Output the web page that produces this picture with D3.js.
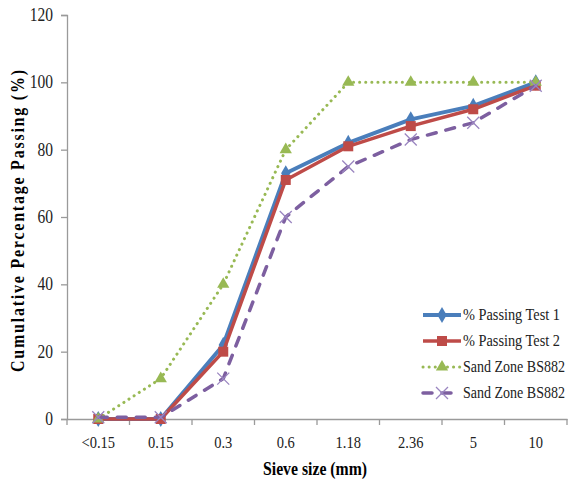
<!DOCTYPE html>
<html><head><meta charset="utf-8">
<script src="https://cdn.jsdelivr.net/npm/d3@7"></script>
<style>body{margin:0;background:#fff}svg{display:block}</style>
</head><body><svg id="c" width="568" height="480"></svg>
<script>
const categories = ["<0.15","0.15","0.3","0.6","1.18","2.36","5","10"];
const test1 = [0, 0, 22, 73, 82, 89, 93, 100];
const test2 = [0, 0, 20, 71, 81, 87, 92, 99];
const zoneUpper = [0, 12, 40, 80, 100, 100, 100, 100];
const zoneLower = [0.5, 0.5, 12, 60, 75, 83, 88, 99];
const yTicks = [0, 20, 40, 60, 80, 100, 120];
const seriesNames = ["% Passing Test 1","% Passing Test 2","Sand Zone BS882","Sand Zone BS882"];

const FONT = '"Liberation Serif"';
const svg = d3.select("#c");
const mLeft = 67, mRight = 567, mTop = 15, mBottom = 419;
const x = d3.scaleBand().domain(categories).range([mLeft, mRight]);
const y = d3.scaleLinear().domain([0, 120]).range([mBottom, mTop]);
const axisColor = "#9a9a9a";

// y axis
const ya = svg.append("g").attr("transform", `translate(${mLeft},0)`)
  .call(d3.axisLeft(y).tickValues(yTicks).tickSize(6).tickPadding(8));
ya.attr("font-family", null);
ya.select(".domain").attr("stroke", axisColor).attr("stroke-width", 1.3);
ya.selectAll(".tick line").attr("stroke", axisColor).attr("stroke-width", 1.3);
ya.selectAll(".tick text").style("font-family", FONT).style("font-size", "15.5px").style("fill", "#222")
  .attr("transform", "scale(1,1.2)").attr("dy", "0.3em");

// x axis
const xa = svg.append("g").attr("transform", `translate(0,${mBottom})`)
  .call(d3.axisBottom(x).tickSize(0));
xa.attr("font-family", null);
xa.select(".domain").attr("stroke", axisColor).attr("stroke-width", 1.3);
xa.selectAll(".tick text").style("font-family", FONT).style("font-size", "14.5px").style("fill", "#222")
  .attr("y", 29 / 1.22).attr("dy", 0).attr("transform", "scale(1,1.22)");
// boundary tick marks between categories
const bounds = categories.map(c => x(c)).concat([x(categories[categories.length-1]) + x.bandwidth()]);
xa.selectAll(".bt").data(bounds).join("line").attr("class","bt")
  .attr("x1", d => d).attr("x2", d => d).attr("y1", 0).attr("y2", 6)
  .attr("stroke", axisColor).attr("stroke-width", 1.3);

// axis titles
svg.append("text").attr("transform", "translate(315,475) scale(1,1.2)").attr("text-anchor", "middle")
  .style("font-family", FONT).style("font-size", "16px").style("font-weight", "bold")
  .attr("textLength", 104).attr("lengthAdjust", "spacingAndGlyphs").text("Sieve size (mm)");
svg.append("text").attr("transform", "translate(24,221) rotate(-90) scale(1,1.2)").attr("text-anchor", "middle")
  .style("font-family", FONT).style("font-size", "16px").style("font-weight", "bold")
  .attr("textLength", 302).attr("lengthAdjust", "spacing")
  .text("Cumulative Percentage Passing (%)");

const cx = c => x(c) + x.bandwidth() / 2;
const line = d3.line().x((d, i) => cx(categories[i])).y(d => y(d));

const series = [
  {name: seriesNames[0], vals: test1, color: "#4A7EBB", w: 4, dash: null, cap: "butt", marker: "diamond", tl: 97},
  {name: seriesNames[1], vals: test2, color: "#BE4B48", w: 3.5, dash: null, cap: "butt", marker: "square", tl: 97},
  {name: seriesNames[2], vals: zoneUpper, color: "#98B954", w: 3, dash: "0.1 6", cap: "round", marker: "triangle", tl: 102},
  {name: seriesNames[3], vals: zoneLower, color: "#7D5FA0", w: 3.5, dash: "9 10", cap: "round", marker: "x", tl: 102}
];

function drawMarker(g, type, color, px, py) {
  if (type === "diamond") {
    g.append("path").attr("d", d3.symbol(d3.symbolDiamond, 75)()).attr("transform", `translate(${px},${py})`).attr("fill", color);
  } else if (type === "square") {
    g.append("rect").attr("x", px - 5).attr("y", py - 5).attr("width", 10).attr("height", 10).attr("fill", color);
  } else if (type === "triangle") {
    g.append("path").attr("d", d3.symbol(d3.symbolTriangle, 65)()).attr("transform", `translate(${px},${py})`).attr("fill", color);
  } else if (type === "x") {
    g.append("path").attr("d", `M${px-6},${py-6}L${px+6},${py+6}M${px+6},${py-6}L${px-6},${py+6}`)
      .attr("stroke", "#9A85C0").attr("stroke-width", 1.3).attr("fill", "none");
  }
}

series.forEach(s => {
  const g = svg.append("g");
  g.append("path").datum(s.vals).attr("d", line).attr("fill", "none")
    .attr("stroke", s.color).attr("stroke-width", s.w).attr("stroke-linecap", s.cap)
    .attr("stroke-linejoin", "round").attr("stroke-dasharray", s.dash);
  s.vals.forEach((v, i) => drawMarker(g, s.marker, s.color, cx(categories[i]), y(v)));
});

// legend
const lg = svg.append("g");
series.forEach((s, i) => {
  const ly = 315 + i * 26;
  lg.append("line").attr("x1", 423).attr("x2", 461).attr("y1", ly).attr("y2", ly)
    .attr("stroke", s.color).attr("stroke-width", s.w).attr("stroke-linecap", s.cap)
    .attr("stroke-dasharray", s.dash);
  drawMarker(lg, s.marker, s.color, 442, ly);
  lg.append("text").attr("transform", `translate(463,${ly + 5}) scale(1,1.1)`)
    .style("font-family", FONT).style("font-size", "14.5px").style("fill", "#222")
    .attr("textLength", s.tl).attr("lengthAdjust", "spacingAndGlyphs").text(s.name);
});
</script></body></html>
